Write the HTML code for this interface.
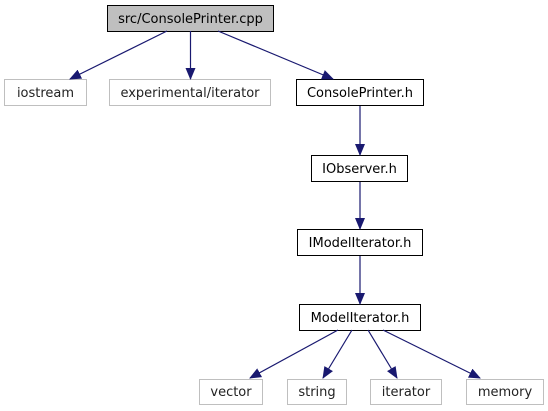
<!DOCTYPE html>
<html><head><style>body{margin:0;background:#fff}svg{display:block}</style></head><body>
<svg width="548" height="411" viewBox="0 0 548 411" xmlns="http://www.w3.org/2000/svg" font-family="DejaVu Sans, Liberation Sans, sans-serif" font-size="13">
<defs><marker id="a" markerWidth="12" markerHeight="10" refX="11" refY="5" orient="auto" markerUnits="userSpaceOnUse"><path d="M0,0L12,5L0,10z" fill="#191970"/></marker></defs>
<g fill="none" stroke-width="1">
<rect x="107.5" y="5.5" width="166" height="26" fill="#bfbfbf" stroke="#000"/>
<rect x="4.5" y="79.5" width="82" height="26" stroke="#bfbfbf"/>
<rect x="109.5" y="79.5" width="161" height="26" stroke="#bfbfbf"/>
<rect x="296.5" y="79.5" width="127" height="26" stroke="#000"/>
<rect x="311.5" y="155.5" width="96" height="26" stroke="#000"/>
<rect x="297.5" y="229.5" width="125" height="26" stroke="#000"/>
<rect x="299.5" y="304.5" width="121" height="26" stroke="#000"/>
<rect x="199.5" y="379.5" width="63" height="25" stroke="#bfbfbf"/>
<rect x="287.5" y="379.5" width="59" height="25" stroke="#bfbfbf"/>
<rect x="370.5" y="379.5" width="71" height="25" stroke="#bfbfbf"/>
<rect x="466.5" y="379.5" width="77" height="25" stroke="#bfbfbf"/>
</g>
<g stroke="#191970" stroke-width="1.2" marker-end="url(#a)">
<line x1="167" y1="31" x2="70" y2="79"/>
<line x1="190.5" y1="31" x2="190.5" y2="79"/>
<line x1="218" y1="31" x2="333" y2="79"/>
<line x1="360" y1="106" x2="360" y2="155"/>
<line x1="360" y1="182" x2="360" y2="229"/>
<line x1="360" y1="256" x2="360" y2="304"/>
<line x1="338" y1="330" x2="250" y2="378"/>
<line x1="352" y1="330" x2="323" y2="378"/>
<line x1="368" y1="330" x2="397" y2="378"/>
<line x1="383" y1="330" x2="480" y2="378"/>
</g>
<g fill="#000" text-anchor="middle">
<text x="190.5" y="23">src/ConsolePrinter.cpp</text>
<text x="45.5" y="97" fill="#222">iostream</text>
<text x="190" y="97" fill="#222">experimental/iterator</text>
<text x="360" y="97">ConsolePrinter.h</text>
<text x="359.5" y="173">IObserver.h</text>
<text x="360" y="247">IModelIterator.h</text>
<text x="360" y="322">ModelIterator.h</text>
<text x="231" y="396" fill="#222">vector</text>
<text x="317" y="396" fill="#222">string</text>
<text x="406" y="396" fill="#222">iterator</text>
<text x="505" y="396" fill="#222">memory</text>
</g>
</svg>
</body></html>
